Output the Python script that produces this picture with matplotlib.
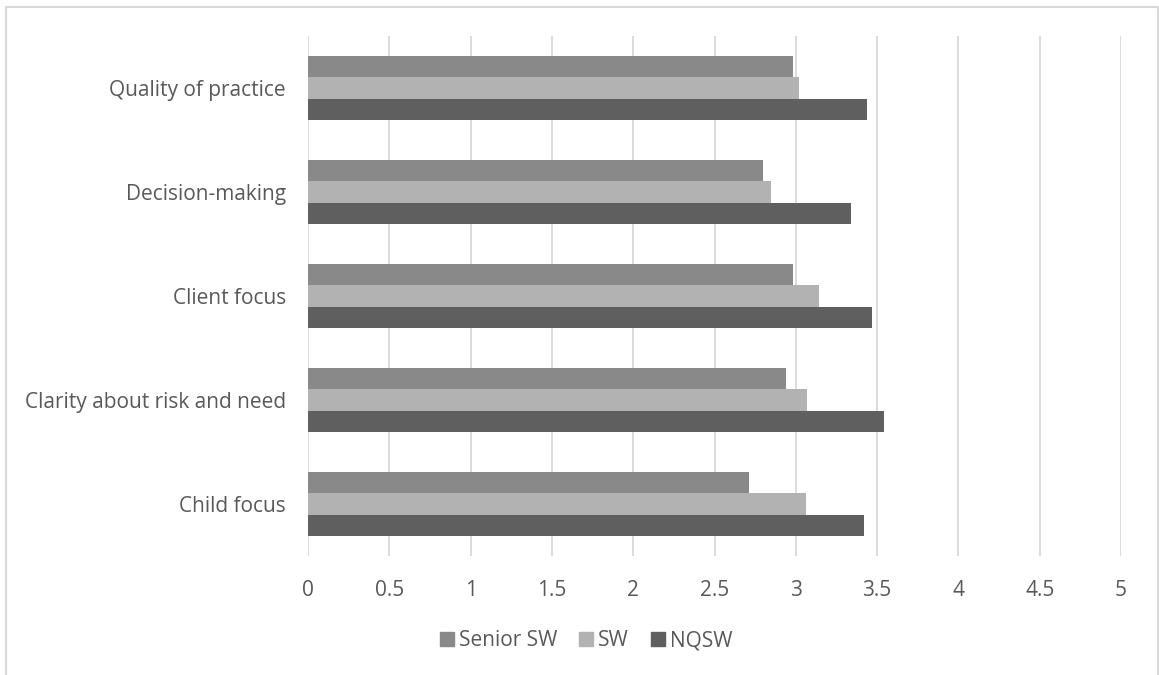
import numpy as np
import matplotlib
matplotlib.use("Agg")
import matplotlib.pyplot as plt
from matplotlib.patches import Rectangle
from matplotlib.lines import Line2D

categories = ["Child focus", "Clarity about risk and need", "Client focus",
              "Decision-making", "Quality of practice"]
senior_sw = [2.71, 2.94, 2.98, 2.80, 2.98]
sw = [3.06, 3.07, 3.14, 2.85, 3.02]
nqsw = [3.42, 3.54, 3.47, 3.34, 3.44]
series_names = ["Senior SW", "SW", "NQSW"]
x_ticks = [0, 0.5, 1, 1.5, 2, 2.5, 3, 3.5, 4, 4.5, 5]
x_tick_labels = ["0", "0.5", "1", "1.5", "2", "2.5", "3", "3.5", "4", "4.5", "5"]

colors = ["#898989", "#b2b2b2", "#5f5f5f"]
text_color = "#595959"
grid_color = "#d9d9d9"

plt.rcParams["font.family"] = ["Open Sans", "DejaVu Sans"]

W, H = 1159, 675
fig = plt.figure(figsize=(W / 100, H / 100), dpi=100)
ax = fig.add_axes([308 / W, (H - 556) / H, (1121 - 308) / W, (556 - 36) / H])

y = np.arange(len(categories))
h = 0.207
ax.barh(y + h, senior_sw, height=h, color=colors[0], zorder=3)
ax.barh(y, sw, height=h, color=colors[1], zorder=3)
ax.barh(y - h, nqsw, height=h, color=colors[2], zorder=3)

ax.set_xlim(0, 5)
ax.set_ylim(-0.5, len(categories) - 0.5)
ax.set_xticks(x_ticks)
ax.set_xticklabels(x_tick_labels)
ax.set_yticks(y)
ax.set_yticklabels(categories)
for xv in x_ticks:
    ax.axvline(xv, color=grid_color, lw=1.3, zorder=1)

ax.tick_params(axis="both", length=0, colors=text_color)
ax.tick_params(axis="x", pad=17.5, labelsize=15)
ax.tick_params(axis="y", pad=16, labelsize=15)
for s in ax.spines.values():
    s.set_visible(False)

# outer chart frame (open at the bottom)
frame = Line2D([6 / W, 6 / W, 1157.5 / W, 1157.5 / W],
               [0, 1 - 7 / H, 1 - 7 / H, 0],
               transform=fig.transFigure, color=grid_color, lw=1.5)
fig.add_artist(frame)

handles = [Rectangle((0, 0), 1, 1, color=c) for c in colors]
leg = fig.legend(handles, series_names, loc="center", bbox_to_anchor=(586 / W, 1 - 641 / H),
                 ncol=3, frameon=False, fontsize=15, handlelength=0.67, handleheight=0.67,
                 handletextpad=0.24, columnspacing=1.05, labelcolor=text_color)

fig.savefig("out.png", dpi=100, facecolor="white")
